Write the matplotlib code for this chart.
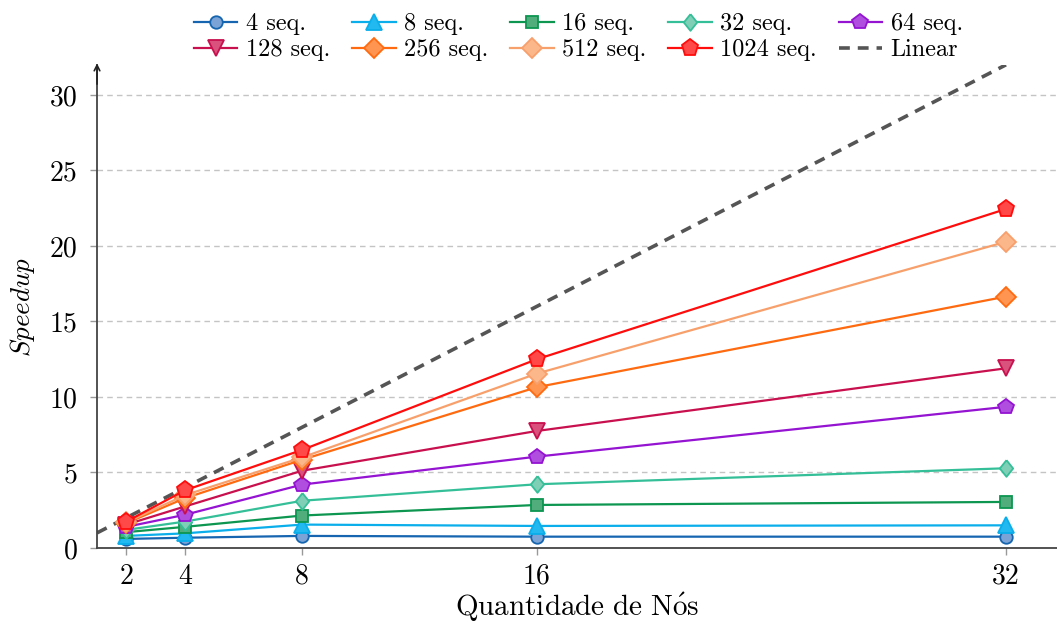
import matplotlib
matplotlib.use("Agg")
import matplotlib.pyplot as plt

# nodes on the x axis
nodes = [2, 4, 8, 16, 32]
node_labels = ["2", "4", "8", "16", "32"]

# speedup, one list per sequence count
sp_4 = [0.6, 0.68, 0.8, 0.75, 0.75]
sp_8 = [0.8, 0.97, 1.55, 1.46, 1.5]
sp_16 = [1.05, 1.4, 2.15, 2.85, 3.05]
sp_32 = [1.2, 1.75, 3.13, 4.22, 5.28]
sp_64 = [1.4, 2.2, 4.2, 6.05, 9.35]
sp_128 = [1.55, 2.75, 5.12, 7.75, 11.9]
sp_256 = [1.65, 3.3, 5.85, 10.65, 16.65]
sp_512 = [1.7, 3.5, 6.0, 11.55, 20.28]
sp_1024 = [1.75, 3.82, 6.5, 12.5, 22.45]

linear_x = [1, 32]
linear_y = [1, 32]

y_ticks = [0, 5, 10, 15, 20, 25, 30]

wide_diamond = [(0, 1), (0.8, 0), (0, -1), (-0.8, 0), (0, 1)]

series = [
    ("4 seq.", sp_4, "o", "#1565b0", "#7ba3d6", 9),
    ("8 seq.", sp_8, "^", "#0aaeea", "#22b8f0", 11),
    ("16 seq.", sp_16, "s", "#0c9650", "#52ad7c", 8.5),
    ("32 seq.", sp_32, wide_diamond, "#35bf98", "#7fcfb6", 12),
    ("64 seq.", sp_64, "p", "#9414d2", "#b04ee0", 11.5),
    ("128 seq.", sp_128, "v", "#c8104e", "#d9527e", 11.5),
    ("256 seq.", sp_256, "D", "#ff6a10", "#ff9550", 10),
    ("512 seq.", sp_512, "D", "#f8a06c", "#fbb68a", 10),
    ("1024 seq.", sp_1024, "p", "#ff0d0d", "#ff4848", 12.5),
]

plt.rcParams["font.family"] = ["cmr10", "DejaVu Serif"]
plt.rcParams["mathtext.fontset"] = "cm"
plt.rcParams["axes.formatter.use_mathtext"] = True

fig = plt.figure(figsize=(10.57, 6.23), dpi=100)
ax = fig.add_axes([0.0918, 0.1204, 0.9082, 0.7756])

lin, = ax.plot(linear_x, linear_y, linestyle=(0, (3, 2.2)), color="#555555",
               lw=2.6, label="Linear", zorder=2)

handles = []
for name, vals, mk, col, face, ms in series:
    h, = ax.plot(nodes, vals, marker=mk, color=col, markerfacecolor=face,
                 markeredgecolor=col, markeredgewidth=1.3, markersize=ms,
                 lw=1.6, label=name, zorder=3)
    handles.append(h)
handles.append(lin)

ax.set_xlim(1, 33.74)
ax.set_ylim(0, 32)
ax.set_xticks(nodes)
ax.set_xticklabels(node_labels)
ax.set_yticks(y_ticks)
ax.set_yticklabels([str(t) for t in y_ticks])
ax.tick_params(axis="both", labelsize=20, direction="out", length=5,
               width=1, color="#999999")
ax.tick_params(axis="y", pad=9)
ax.tick_params(axis="x", pad=6)

for s in ["top", "right"]:
    ax.spines[s].set_visible(False)
for s in ["left", "bottom"]:
    ax.spines[s].set_color("#444444")
    ax.spines[s].set_linewidth(1.3)

ax.yaxis.grid(True, linestyle=(0, (4, 3)), color="#c4c4c4", lw=1)
ax.set_axisbelow(True)

ax.annotate("", xy=(0, 1.003), xytext=(0, 0.96), xycoords="axes fraction",
            arrowprops=dict(arrowstyle="->", color="#222222", lw=1.2,
                            shrinkA=0, shrinkB=0))

ax.set_xlabel(r"$\mathrm{Quantidade\ de\ N\acute{o}s}$", fontsize=21, labelpad=1)
ax.set_ylabel(r"$Speedup$", fontsize=19.5, labelpad=9)

# legend filled row by row, matplotlib fills column by column
ncol = 5
order = []
for c in range(ncol):
    order.append(handles[c])
    order.append(handles[c + ncol])

fig.legend(handles=order, loc="upper center", bbox_to_anchor=(0.547, 1.0),
           ncol=ncol, frameon=False, fontsize=17.5, handlelength=1.8,
           handletextpad=0.34, columnspacing=0.9, labelspacing=0.15,
           borderaxespad=0.15)

fig.savefig("out.png", dpi=100)
